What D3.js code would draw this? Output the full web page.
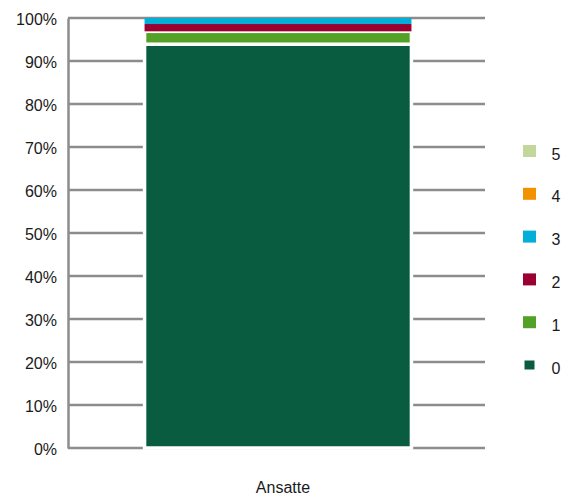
<!DOCTYPE html>
<html>
<head>
<meta charset="utf-8">
<script src="https://cdn.jsdelivr.net/npm/d3@7"></script>
<style>
  body { margin: 0; background: #fff; }
  text { font-family: "Liberation Sans", Arial, sans-serif; fill: #1a1a1a; }
</style>
</head>
<body>
<svg id="chart" width="563" height="496"></svg>
<script>
// categories and series (share of "Ansatte" per class, in %)
const categories = ['Ansatte']
const seriesKeys = ['0', '1', '2', '3', '4', '5']
const seriesValues = [93.9, 3.0, 1.7, 1.4, 0, 0]
const seriesColors = ['#095c40', '#53a127', '#9b0032', '#00b0d8', '#f39200', '#c3d69b']
const yTicks = [0, 10, 20, 30, 40, 50, 60, 70, 80, 90, 100]

// svg size and padding
const width = 563
const height = 496
const pad_left = 68
const pad_right = 78
const pad_top = 18
const pad_bottom = 48

const svg = d3.select('#chart')

// one row per category, one column per series
const row = { cat: categories[0] }
seriesKeys.forEach((k, i) => row[k] = seriesValues[i])
const stacked = d3.stack().keys(seriesKeys)([row])

const xScale = d3.scaleBand().domain(categories)
    .range([pad_left, width - pad_right])
    .paddingInner(0.36).paddingOuter(0.178).align(0.51)
const yScale = d3.scaleLinear().domain([0, 100]).range([height - pad_bottom, pad_top])
const color = d3.scaleOrdinal().domain(seriesKeys).range(seriesColors)

// gridlines
svg.append('g')
    .selectAll('line')
    .data(yTicks)
    .join('line')
    .attr('x1', pad_left)
    .attr('x2', width - pad_right)
    .attr('y1', d => yScale(d))
    .attr('y2', d => yScale(d))
    .attr('stroke', '#8c8c8c')
    .attr('stroke-width', 2.5)

// y axis
let yAxis = d3.axisLeft(yScale).tickValues(yTicks).tickFormat(d => d + '%').tickSize(0).tickPadding(11)
let yg = svg.append('g').attr('transform', 'translate(' + pad_left + ',0)').call(yAxis)
yg.select('.domain').attr('stroke', '#8c8c8c').attr('stroke-width', 2.5)
yg.selectAll('text').style('font', '16px "Liberation Sans", Arial, sans-serif').attr('fill', '#1a1a1a').attr('dy', '0.4em')

// stacked bar segments
svg.append('g')
    .selectAll('rect')
    .data(stacked)
    .join('rect')
    .attr('x', xScale(categories[0]))
    .attr('width', xScale.bandwidth())
    .attr('y', d => yScale(d[0][1]))
    .attr('height', d => yScale(d[0][0]) - yScale(d[0][1]))
    .attr('fill', d => color(d.key))
    .attr('stroke', '#fff')
    // thin slices show no white border in the original
    .attr('stroke-width', d => (yScale(d[0][0]) - yScale(d[0][1])) > 10 ? 3.5 : 0)

// category label
svg.append('text')
    .attr('x', xScale(categories[0]) + xScale.bandwidth() / 2 + 5)
    .attr('y', height - 3)
    .attr('text-anchor', 'middle')
    .style('font-size', '16px')
    .text(categories[0])

// legend, drawn from top (5) to bottom (0)
const legendKeys = seriesKeys.slice().reverse()
const legendY = d3.scalePoint().domain(legendKeys).range([151, 365])
let legend = svg.append('g')
    .selectAll('g')
    .data(legendKeys)
    .join('g')
    .attr('transform', d => 'translate(529.5,' + legendY(d) + ')')

legend.append('rect')
    .attr('x', d => d === '0' ? -5 : -6.5)
    .attr('y', d => d === '0' ? -4.5 : -6)
    .attr('width', d => d === '0' ? 10 : 13)
    .attr('height', d => d === '0' ? 9 : 12)
    .attr('fill', d => color(d))

legend.append('text')
    .attr('x', 22)
    .attr('y', 3)
    .attr('dy', '0.35em')
    .style('font-size', '16px')
    .text(d => d)
</script>
</body>
</html>
